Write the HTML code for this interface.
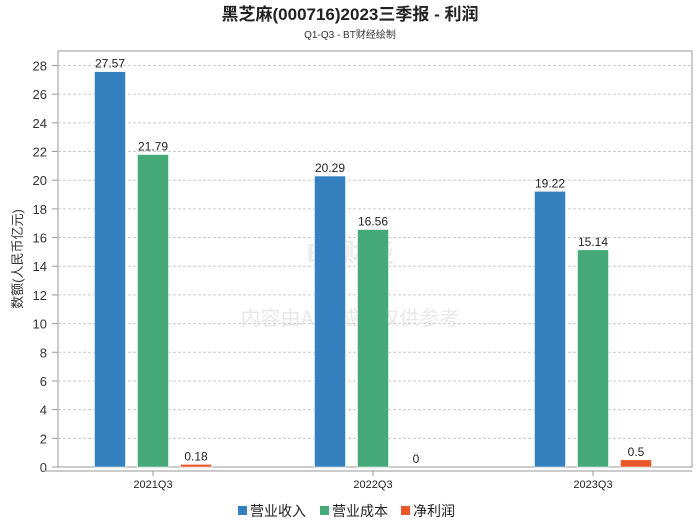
<!DOCTYPE html>
<html><head><meta charset="utf-8"><style>
body{margin:0;background:#fff;}
svg{display:block;font-family:"Liberation Sans","Noto Sans CJK SC",sans-serif;}
</style></head><body>
<svg width="700" height="524">
<text x="350" y="20" text-anchor="middle" font-size="17" font-weight="bold" fill="#222">黑芝麻(000716)2023三季报 - 利润</text>
<text x="350" y="38" text-anchor="middle" font-size="10" fill="#333">Q1-Q3 - BT财经绘制</text>
<rect x="58" y="51" width="634" height="416" fill="none" stroke="#999"/>
<text x="350" y="262" text-anchor="middle" font-size="26" font-weight="bold" fill="#ececec">BT财经</text>
<text x="350" y="325" text-anchor="middle" font-size="20" fill="#e8e8e8">内容由AI生成，仅供参考</text>
<g id="grid"></g>
<g id="bars"></g>
<line x1="43" y1="471" x2="692" y2="471" stroke="#999"/>
<text transform="translate(22,259) rotate(-90)" text-anchor="middle" font-size="13" fill="#333">数额(人民币亿元)</text>
<g font-size="14" fill="#222">
<rect x="238" y="506" width="9" height="9" fill="#3581c0"/>
<text x="250" y="516">营业收入</text>
<rect x="320" y="506" width="9" height="9" fill="#45a978"/>
<text x="332" y="516">营业成本</text>
<rect x="401" y="506" width="9" height="9" fill="#e8562a"/>
<text x="413" y="516">净利润</text>
</g>
</svg>
<script>
const categories=["2021Q3","2022Q3","2023Q3"];
const revenue=[27.57,20.29,19.22];
const cost=[21.79,16.56,15.14];
const profit=[0.18,0,0.5];
const yTicks=[0,2,4,6,8,10,12,14,16,18,20,22,24,26,28];
const NS="http://www.w3.org/2000/svg";
const y=v=>467-v*14.34;
const xc=i=>153+220*i;
const grid=document.getElementById('grid'),bars=document.getElementById('bars');
function mk(tag,attrs,parent){const e=document.createElementNS(NS,tag);for(const k in attrs)e.setAttribute(k,attrs[k]);parent.appendChild(e);return e;}
yTicks.forEach(t=>{
 if(t>0){const l=mk('line',{x1:58,x2:692,y1:y(t),y2:y(t),stroke:'#ccc','stroke-dasharray':'3,2'},grid);
 
 }
 const tx=mk('text',{x:47,y:y(t)+5,'text-anchor':'end','font-size':'13',fill:'#333'},grid);tx.textContent=t;
 
 
 const tk=mk('line',{x1:52,x2:58,y1:y(t),y2:y(t),stroke:'#999'},grid);
 
 
});
const series=[[revenue,'#3581c0',-43,'revenue'],[cost,'#45a978',0,'cost'],[profit,'#e8562a',43,'profit']];
categories.forEach((c,i)=>{
 const lb=mk('text',{x:xc(i),y:488,'text-anchor':'middle','font-size':'11',fill:'#222'},bars);lb.textContent=c;
 
 
 const tk=mk('line',{x1:xc(i),x2:xc(i),y1:471,y2:476,stroke:'#999'},bars);
 
 
 series.forEach(([arr,col,off,nm])=>{
  const v=arr[i],cx=xc(i)+off;
  const r=mk('rect',{x:cx-15.5,y:y(v),width:31,height:467-y(v),fill:col,stroke:'#fff','stroke-width':'0.5'},bars);
  
  
  const t=mk('text',{x:cx,y:y(v)-4,'text-anchor':'middle','font-size':'12',fill:'#222'},bars);t.textContent=v;
  
  
 });
});
</script>
</body></html>
